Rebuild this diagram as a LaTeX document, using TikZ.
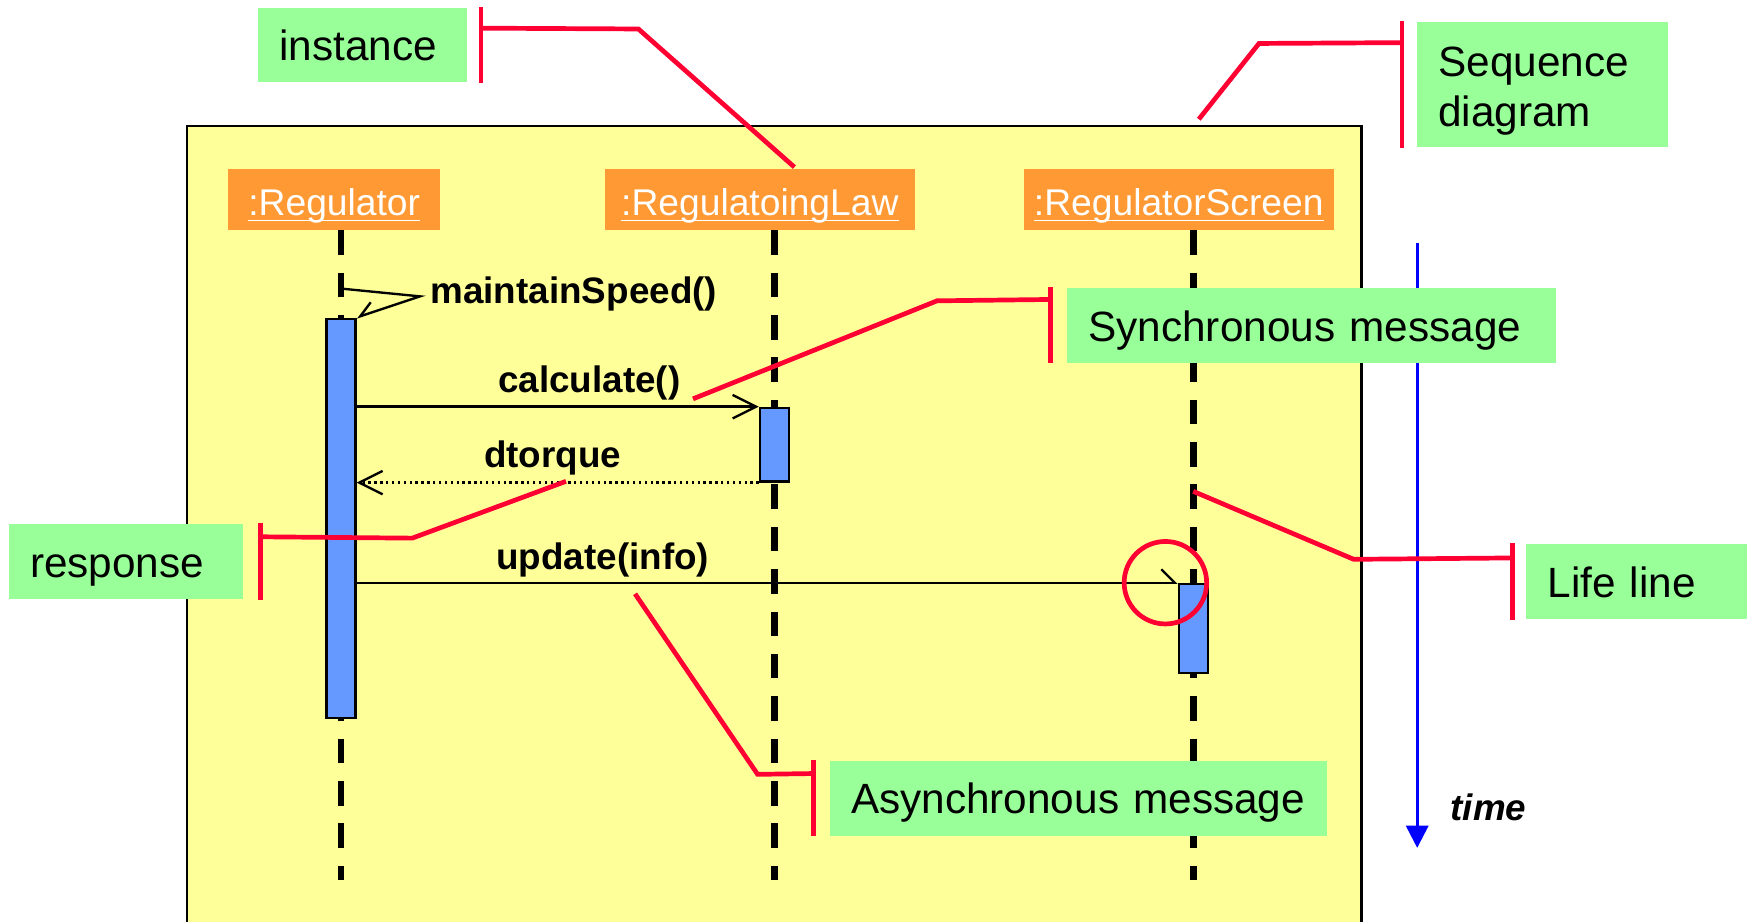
\documentclass[tikz,border=0pt]{standalone}
\usepackage{fontspec}
\setmainfont{Liberation Sans}
\usetikzlibrary{arrows.meta}

\definecolor{frameyellow}{HTML}{FFFF99}
\definecolor{objorange}{HTML}{FF9933}
\definecolor{barblue}{HTML}{6699FF}
\definecolor{notegreen}{HTML}{99FF99}
\definecolor{calloutred}{HTML}{FF0033}

\begin{document}
\begin{tikzpicture}[x=0.01cm, y=-0.01cm,
  object/.style={fill=objorange, text=white, minimum height=0.54cm, inner sep=0pt, text height=8pt, text depth=0pt, font=\fontsize{9.5}{11}\selectfont},
  lifeline/.style={line width=1.7pt, dash pattern=on 0.22cm off 0.16cm},
  activation/.style={draw, fill=barblue, line width=0.6pt, minimum width=0.26cm, inner sep=0pt, anchor=north},
  call/.style={line width=0.6pt, -{Straight Barb[length=0.21cm, width=0.21cm]}},
  reply/.style={call, dash pattern=on 0.6pt off 0.9pt},
  signal/.style={line width=0.6pt, -{Straight Barb[length=0.12cm, width=0.24cm, harpoon]}},
  msglabel/.style={font=\bfseries\fontsize{9.4}{11}\selectfont},
  note/.style={fill=notegreen, align=left, inner xsep=0.19cm, inner ysep=0pt, minimum height=0.67cm, text height=8pt, text depth=0pt, font=\fontsize{10.8}{12.8}\selectfont},
  leader/.style={draw=calloutred, line width=1.2pt},
]
\useasboundingbox (0,0) rectangle (1568,827);

% frame
\fill[frameyellow] (168,113) rectangle (1222,830);
\draw[line width=0.6pt] (168,830) -- (168,113) -- (1222,113) -- (1222,830);

% objects
\node[object, minimum width=1.90cm] (regObj) at (300,179) {\underline{\smash{:Regulator}}};
\node[object, minimum width=2.78cm] (lawObj) at (682,179) {\underline{\smash{:RegulatoingLaw}}};
\node[object, minimum width=2.78cm] (scrObj) at (1058,179) {\underline{\smash{:RegulatorScreen}}};

% lifelines
\coordinate (regEnd) at (306,790);
\coordinate (lawEnd) at (695,790);
\coordinate (scrEnd) at (1071,790);
\draw[lifeline] (regObj.south -| regEnd) -- (regEnd);
\draw[lifeline] (lawObj.south -| lawEnd) -- (lawEnd);
\draw[lifeline] (scrObj.south -| scrEnd) -- (scrEnd);

% activations
\node[activation, minimum height=3.58cm] (regAct) at (306,285) {};
\node[activation, minimum height=0.66cm] (lawAct) at (695,365) {};
\node[activation, minimum height=0.80cm] (scrAct) at (1071,523) {};

% messages
\coordinate (selfStart) at (306,259);
\coordinate (selfTurn) at (377,266);
\draw[line width=0.6pt, -{Straight Barb[length=0.13cm, width=0.18cm, harpoon, swap]}] (selfStart) -- (selfTurn) -- (regAct.north east);
\draw[call] (regAct.east |- lawAct.north) -- (lawAct.north west);
\draw[reply] (lawAct.south west) -- (regAct.east |- lawAct.south);
\draw[signal] (regAct.east |- scrAct.north) -- (scrAct.north west);

\node[msglabel, anchor=west] (selfLbl) at (374,264) {maintainSpeed()};
\node[msglabel] (calcLbl) at (529,344) {calculate()};
\node[msglabel] (dtorqueLbl) at (496,411) {dtorque};
\node[msglabel] (updateLbl) at (541,503) {update(info)};

% time axis
\coordinate (timeTop) at (1272,218);
\coordinate (timeTip) at (1272,761);
\draw[draw=blue, line width=0.7pt, -{Triangle[length=0.2cm, width=0.2cm]}] (timeTop) -- (timeTip);
\node[font=\bfseries\itshape\fontsize{9.4}{11}\selectfont] (timeLbl) at (1336,725) {time};

% notes
\node[note, text width=1.49cm] (instNote) at (325.5,40.5) {instance};
\node[note, text width=1.87cm, minimum height=1.12cm, text depth=12pt] (seqNote) at (1384.5,76) {Sequence\\diagram};
\node[note, text width=4.00cm] (syncNote) at (1177,292) {Synchronous message};
\node[note, text width=1.72cm] (respNote) at (113,504) {response};
\node[note, text width=1.60cm] (lifeNote) at (1469,522) {Life line};
\node[note, text width=4.08cm] (asyncNote) at (968,716.5) {Asynchronous message};

% leaders
\coordinate (instBend) at (573,26);
\coordinate (instTip) at (713,150);
\draw[leader] ([xshift=0.12cm]instNote.north east) -- ([xshift=0.12cm]instNote.south east);
\draw[leader] ([shift={(12,19)}]instNote.north east) -- (instBend) -- (instTip);

\coordinate (seqBend) at (1130,39);
\coordinate (seqTip) at (1076,107);
\draw[leader] ([xshift=-0.13cm]seqNote.north west) -- ([xshift=-0.13cm]seqNote.south west);
\draw[leader] ([shift={(-13,19)}]seqNote.north west) -- (seqBend) -- (seqTip);

\coordinate (syncBend) at (841,270);
\coordinate (syncTip) at (622,358);
\draw[leader] ([xshift=-0.14cm]syncNote.north west) -- ([xshift=-0.14cm]syncNote.south west);
\draw[leader] ([shift={(-14,11)}]syncNote.north west) -- (syncBend) -- (syncTip);

\coordinate (respBend) at (370,483);
\coordinate (respTip) at (508,432);
\draw[leader] ([xshift=0.15cm]respNote.north east) -- ([xshift=0.15cm]respNote.south east);
\draw[leader] ([shift={(15,12)}]respNote.north east) -- (respBend) -- (respTip);

\coordinate (lifeBend) at (1215,502);
\coordinate (lifeTip) at (1071,441);
\draw[leader] ([xshift=-0.12cm]lifeNote.north west) -- ([xshift=-0.12cm]lifeNote.south west);
\draw[leader] ([shift={(-12,13)}]lifeNote.north west) -- (lifeBend) -- (lifeTip);

\coordinate (asyncBend) at (680,695);
\coordinate (asyncTip) at (570,533);
\draw[leader] ([xshift=-0.14cm]asyncNote.north west) -- ([xshift=-0.14cm]asyncNote.south west);
\draw[leader] ([shift={(-14,12)}]asyncNote.north west) -- (asyncBend) -- (asyncTip);

\node[draw=calloutred, circle, line width=1.2pt, minimum size=0.74cm, inner sep=0pt] (asyncMark) at (1046,523) {};

\end{tikzpicture}
\end{document}
